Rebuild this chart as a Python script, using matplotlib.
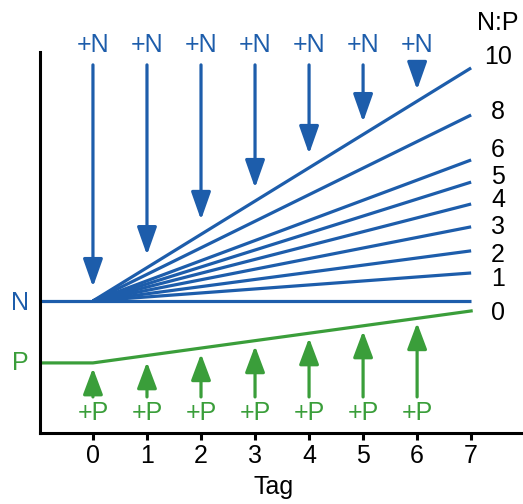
import numpy as np
import matplotlib.pyplot as plt

plt.rcParams['font.family'] = ['Liberation Sans', 'DejaVu Sans']

# ====== Datos
tage = [0, 1, 2, 3, 4, 5, 6, 7]
verhaeltnis = ['10', '8', '6', '5', '4', '3', '2', '1', '0']
# Endwerte der N-Linien bei Tag 7 (N-Niveau = 0)
n_ende = [10.0, 7.98, 6.05, 5.1, 4.16, 3.18, 2.15, 1.2, 0.0]
# Beschriftungshöhe der Verhältnisse
label_y = [10.47, 8.11, 6.48, 5.32, 4.33, 3.18, 1.95, 0.95, -0.52]
p_start = -2.66
p_ende = -0.43
# Pfeile
n_pfeil_tag = [0, 1, 2, 3, 4, 5, 6]
n_pfeil_spitze = [0.60, 1.97, 3.48, 4.85, 6.31, 7.68, 9.06]
p_pfeil_tag = [0, 1, 2, 3, 4, 5, 6]
p_pfeil_spitze = [-2.88, -2.62, -2.27, -1.93, -1.59, -1.29, -0.94]

blau = '#1d5dab'
gruen = '#3a9e3a'
fs = 18

fig = plt.figure(figsize=(5.23, 5.04), dpi=100)
ax = fig.add_axes([0.0765, 0.141, 0.9235, 0.756])
ax.set_xlim(-0.98, 7.96)
ax.set_ylim(-5.665, 10.687)

# N-Linien
ax.plot([-0.98, 0], [0, 0], color=blau, lw=2.3, solid_capstyle='butt')
for v in n_ende:
    ax.plot([0, 7], [0, v], color=blau, lw=2.3, solid_capstyle='butt')

# P-Linie
ax.plot([-0.98, 0, 7], [p_start, p_start, p_ende], color=gruen, lw=2.3)

# Pfeile +N
for t, s in zip(n_pfeil_tag, n_pfeil_spitze):
    ax.annotate('', xy=(t, s), xytext=(t, 10.13),
                arrowprops=dict(arrowstyle='-|>,head_length=0.85,head_width=0.3',
                                mutation_scale=20, color=blau, lw=2.3,
                                shrinkA=0, shrinkB=0))
    ax.text(t, 10.99, '+N', color=blau, fontsize=fs, ha='center', va='center',
            clip_on=False)

# Pfeile +P
for t, s in zip(p_pfeil_tag, p_pfeil_spitze):
    ax.annotate('', xy=(t, s), xytext=(t, -4.12),
                arrowprops=dict(arrowstyle='-|>,head_length=0.8,head_width=0.3',
                                mutation_scale=20, color=gruen, lw=2.3,
                                shrinkA=0, shrinkB=0))
    ax.text(t, -4.8, '+P', color=gruen, fontsize=fs, ha='center', va='center')

# Beschriftungen
for lab, y in zip(verhaeltnis, label_y):
    ax.text(7.5, y, lab, fontsize=fs, ha='center', va='center', clip_on=False)
ax.text(7.5, 11.93, 'N:P', fontsize=fs, ha='center', va='center', clip_on=False)
ax.text(-1.35, -0.09, 'N', color=blau, fontsize=fs, ha='center', va='center',
        clip_on=False)
ax.text(-1.35, -2.66, 'P', color=gruen, fontsize=fs, ha='center', va='center',
        clip_on=False)
ax.text(3.35, -7.98, 'Tag', fontsize=fs, ha='center', va='center', clip_on=False)

# Achsen
for s in ['top', 'right']:
    ax.spines[s].set_visible(False)
ax.spines['left'].set_linewidth(2.2)
ax.spines['bottom'].set_linewidth(2.2)
ax.set_yticks([])
ax.set_xticks(tage)
ax.tick_params(axis='x', length=5, width=2.2, labelsize=fs, pad=3)

fig.savefig('out.png', dpi=100)
